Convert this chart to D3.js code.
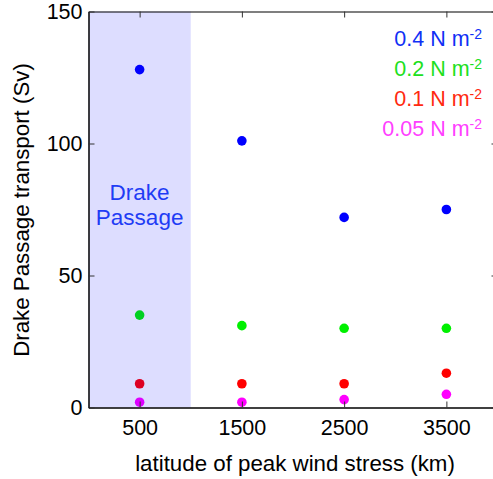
<!DOCTYPE html>
<html>
<head>
<meta charset="utf-8">
<script src="https://cdn.jsdelivr.net/npm/d3@7"></script>
<style>
  body { margin: 0; background: #fff; }
  text { font-family: "Liberation Sans", Arial, sans-serif; }
</style>
</head>
<body>
<svg id="chart"></svg>
<script>
const width = 493;
const height = 479;

// data
const latitudes = [500, 1500, 2500, 3500];
const stressLabels = ["0.4", "0.2", "0.1", "0.05"];
const stressColors = ["#0000ff", "#00f000", "#ff0000", "#ff00ff"];
const labelColors = ["#1030f5", "#20e020", "#ff2a10", "#ff40ff"];
const transport04 = [128, 101, 72, 75];
const transport02 = [35, 31, 30, 30];
const transport01 = [9, 9, 9, 13];
const transport005 = [2, 2, 3, 5];
const xTicks = [500, 1500, 2500, 3500];
const yTicks = [0, 50, 100, 150];
const drakeBand = [0, 1000];

const series = [transport04, transport02, transport01, transport005];

const svg = d3.select("#chart")
    .attr("width", width)
    .attr("height", height);

const x = d3.scaleLinear().domain([0, 4000]).range([88.5, 497.5]);
const y = d3.scaleLinear().domain([0, 150]).range([407.5, 11.5]);

// points
series.forEach((vals, si) => {
    svg.append("g")
        .selectAll("circle")
        .data(vals)
        .enter()
        .append("circle")
        .attr("cx", (d, i) => x(latitudes[i]))
        .attr("cy", d => y(d))
        .attr("r", 4.8)
        .attr("fill", stressColors[si]);
});

// Drake Passage band (drawn over the points, translucent)
svg.append("rect")
    .attr("x", x(drakeBand[0]))
    .attr("y", y(150))
    .attr("width", x(drakeBand[1]) - x(drakeBand[0]))
    .attr("height", y(0) - y(150))
    .attr("fill", "#0000ff")
    .attr("opacity", 0.135);

const bandMid = (x(drakeBand[0]) + x(drakeBand[1])) / 2;
svg.append("text")
    .attr("x", bandMid)
    .attr("y", 200)
    .attr("text-anchor", "middle")
    .attr("fill", "#1f3cf5")
    .attr("font-size", 22.5)
    .selectAll("tspan")
    .data(["Drake", "Passage"])
    .enter()
    .append("tspan")
    .attr("x", bandMid)
    .attr("dy", (d, i) => i === 0 ? 0 : 25)
    .text(d => d);

// axes with inward ticks
const tick = 6;
svg.append("g")
    .attr("transform", `translate(0,${y(0)})`)
    .call(d3.axisBottom(x).tickValues(xTicks).tickFormat(d3.format("d"))
        .tickSizeInner(-tick).tickSizeOuter(0).tickPadding(12))
    .call(g => g.select(".domain").attr("stroke-width", 1.5));
svg.append("g")
    .attr("transform", `translate(0,${y(150)})`)
    .call(d3.axisTop(x).tickValues(xTicks).tickSizeInner(-tick).tickSizeOuter(0).tickFormat(""))
    .call(g => g.select(".domain").attr("stroke-width", 1.2));
svg.append("g")
    .attr("transform", `translate(${x(0)},0)`)
    .call(d3.axisLeft(y).tickValues(yTicks).tickSizeInner(-tick).tickSizeOuter(0).tickPadding(6))
    .call(g => g.select(".domain").attr("stroke-width", 1.5));
svg.append("g")
    .attr("transform", `translate(${x(4000)},0)`)
    .call(d3.axisRight(y).tickValues(yTicks).tickSizeInner(-tick).tickSizeOuter(0).tickFormat(""));

svg.selectAll(".tick text")
    .attr("font-size", 21.5)
    .attr("font-family", "Liberation Sans, Arial, sans-serif")
    .attr("fill", "#000");
svg.selectAll(".tick line").attr("stroke", "#333");

// axis labels
svg.append("text")
    .attr("x", 295)
    .attr("y", 471)
    .attr("text-anchor", "middle")
    .attr("font-size", 22.3)
    .text("latitude of peak wind stress (km)");

svg.append("text")
    .attr("transform", "translate(29,210) rotate(-90)")
    .attr("text-anchor", "middle")
    .attr("font-size", 22.3)
    .text("Drake Passage transport (Sv)");

// legend
stressLabels.forEach((lab, i) => {
    const t = svg.append("text")
        .attr("x", 482)
        .attr("y", 46 + i * 30)
        .attr("text-anchor", "end")
        .attr("font-size", 21.5)
        .attr("fill", labelColors[i]);
    t.append("tspan").text(lab + " N m");
    t.append("tspan").attr("font-size", 14).attr("dy", -7).text("-2");
});
</script>
</body>
</html>
